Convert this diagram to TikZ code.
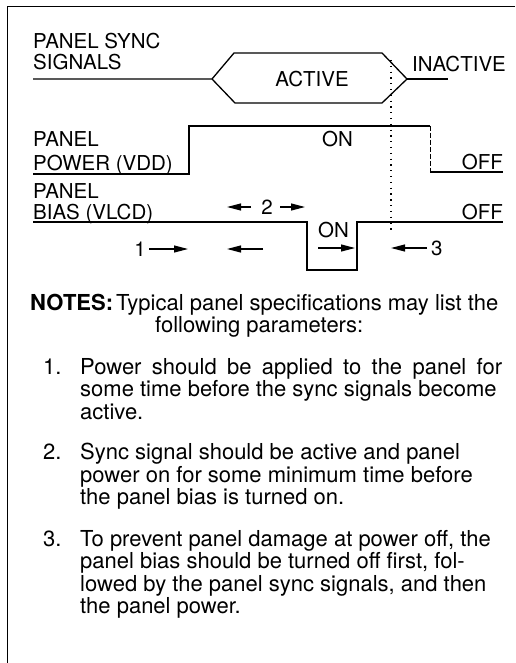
\documentclass[tikz,border=0pt]{standalone}
\usepackage{fontspec}
\setmainfont{TeX Gyre Heros}
\usetikzlibrary{arrows.meta}
\begin{document}
\begin{tikzpicture}[x=1pt,y=-1pt,
  lbl/.style={font=\fontsize{20.5}{22}\selectfont, inner sep=0pt, anchor=base west},
  lblr/.style={lbl, anchor=base east},
  lblc/.style={lbl, anchor=base},
  note/.style={font=\fontsize{22}{23}\selectfont, inner sep=0pt, anchor=base west},
  sig/.style={line width=1.3pt},
  arr/.style={line width=1.1pt, -{Triangle[length=14pt,width=7pt]}},
  dots/.style={line width=1.3pt, dash pattern=on 1.3pt off 4.5pt},
]
\useasboundingbox (0,0) rectangle (515,663);
% frame
\coordinate (fTR) at (515,7);
\coordinate (fTL) at (7,7);
\coordinate (fBL) at (7,663);
\draw[line width=1pt] (fTR) -- (fTL) -- (fBL);

% sync signals
\coordinate (s0) at (33,79);
\coordinate (s1) at (212,79);
\coordinate (hUL) at (234,53);
\coordinate (hUR) at (382,53);
\coordinate (hR) at (407,79);
\coordinate (hLR) at (382,103);
\coordinate (hLL) at (235,103);
\coordinate (s2) at (448,79);
\draw[sig] (s0) -- (s1) -- (hUL) -- (hUR) -- (hR) -- (hLR) -- (hLL) -- (s1);
\draw[sig] (hR) -- (s2);
\node[lbl] (tsync1) at (33,49) {PANEL SYNC};
\node[lbl] (tsync2) at (33,70) {SIGNALS};
\node[lblc] (tact) at (312,87) {ACTIVE};
\node[lbl] (tinact) at (412,72) {INACTIVE};

% dotted marker
\coordinate (d0) at (391,60);
\coordinate (d1) at (391,233);
\draw[dots] (d0) -- (d1);

% panel power
\coordinate (p0) at (33,174);
\coordinate (p1) at (189,174);
\coordinate (p2) at (189,126);
\coordinate (p3) at (430,126);
\coordinate (p4) at (430,172);
\coordinate (p5) at (503,172);
\draw[sig] (p0) -- (p1) -- (p2) -- (p3);
\draw[line width=0.8pt, dash pattern=on 5pt off 2pt] (p3) -- (p4);
\draw[sig] (p4) -- (p5);
\node[lbl] (tpow1) at (33,147) {PANEL};
\node[lbl] (tpow2) at (33,171) {POWER (VDD)};
\node[lbl] (tpon) at (322,147) {ON};
\node[lblr] (tpoff) at (503,169) {OFF};

% panel bias
\coordinate (b0) at (33,222);
\coordinate (b1) at (307,222);
\coordinate (b2) at (307,270);
\coordinate (b3) at (357,270);
\coordinate (b4) at (357,222);
\coordinate (b5) at (503,222);
\draw[sig] (b0) -- (b1) -- (b2) -- (b3) -- (b4) -- (b5);
\node[lbl] (tbias1) at (33,198) {PANEL};
\node[lbl] (tbias2) at (33,219) {BIAS (VLCD)};
\node[lblr] (tboff) at (503,219) {OFF};
\node[lbl] (tbon) at (318,237) {ON};

% interval arrows
\node[lbl, anchor=east] (n1) at (146,249) {1};
\coordinate (a1s) at (149,249);
\coordinate (a1e) at (188,249);
\draw[arr] (a1s) -- (a1e);
\coordinate (a2s) at (263,249);
\coordinate (a2e) at (227,249);
\draw[arr] (a2s) -- (a2e);

\node[lbl, anchor=center] (n2) at (267,207) {2};
\coordinate (a3s) at (251,207);
\coordinate (a3e) at (227,207);
\coordinate (a4s) at (280,207);
\coordinate (a4e) at (305,207);
\draw[arr] (a3s) -- (a3e);
\draw[arr] (a4s) -- (a4e);

\coordinate (a5s) at (318,248);
\coordinate (a5e) at (355,248);
\draw[arr] (a5s) -- (a5e);
\coordinate (a6s) at (427,248);
\coordinate (a6e) at (391,248);
\draw[arr] (a6s) -- (a6e);
\node[lbl, anchor=west] (n3) at (431,248) {3};

% notes
\node[note] (notes) at (30,310) {\textbf{NOTES:}};
\node[note] (nl1) at (116,310) {Typical panel specifications may list the};
\node[note] (nl2) at (155,332) {following parameters:};

\node[note] (i1) at (43,374) {1.};
\node[note] (i1a) at (80,374) {\makebox[422pt][s]{Power should be applied to the panel for}};
\node[note] (i1b) at (80,396.5) {some time before the sync signals become};
\node[note] (i1c) at (80,419) {active.};

\node[note] (i2) at (43,459.5) {2.};
\node[note] (i2a) at (80,459.5) {Sync signal should be active and panel};
\node[note] (i2b) at (80,482) {power on for some minimum time before};
\node[note] (i2c) at (80,504.5) {the panel bias is turned on.};

\node[note] (i3) at (43,546) {3.};
\node[note] (i3a) at (80,546) {To prevent panel damage at power off, the};
\node[note] (i3b) at (80,568.5) {panel bias should be turned off first, fol-};
\node[note] (i3c) at (80,591) {lowed by the panel sync signals, and then};
\node[note] (i3d) at (80,613.5) {the panel power.};
\end{tikzpicture}
\end{document}
